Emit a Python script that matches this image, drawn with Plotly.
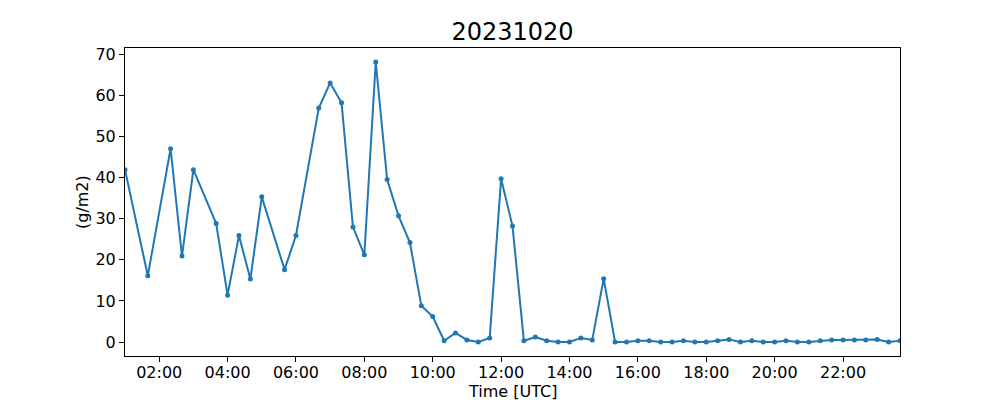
import plotly.graph_objects as go

day = "2023-10-20"
times = ["01:00", "01:40", "02:20", "02:40", "03:00", "03:40", "04:00", "04:20", "04:40", "05:00",
         "05:40", "06:00", "06:40", "07:00", "07:20", "07:40", "08:00", "08:20", "08:40", "09:00",
         "09:20", "09:40", "10:00", "10:20", "10:40", "11:00", "11:20", "11:40", "12:00", "12:20",
         "12:40", "13:00", "13:20", "13:40", "14:00", "14:20", "14:40", "15:00", "15:20", "15:40",
         "16:00", "16:20", "16:40", "17:00", "17:20", "17:40", "18:00", "18:20", "18:40", "19:00",
         "19:20", "19:40", "20:00", "20:20", "20:40", "21:00", "21:20", "21:40", "22:00", "22:20",
         "22:40", "23:00", "23:20", "23:40"]
values = [41.9, 16.1, 47.0, 20.9, 41.9, 28.8, 11.4, 25.9, 15.3, 35.3,
          17.6, 25.9, 56.9, 63.0, 58.2, 28.0, 21.2, 68.1, 39.5, 30.7,
          24.2, 8.8, 6.2, 0.3, 2.2, 0.5, 0.0, 1.0, 39.7, 28.2,
          0.3, 1.2, 0.3, 0.0, 0.0, 1.0, 0.5, 15.4, 0.0, 0.0,
          0.3, 0.3, 0.0, 0.0, 0.3, 0.0, 0.0, 0.3, 0.6, 0.0,
          0.3, 0.0, 0.0, 0.3, 0.0, 0.0, 0.3, 0.5, 0.5, 0.5,
          0.5, 0.6, 0.0, 0.3]
tick_hours = ["02:00", "04:00", "06:00", "08:00", "10:00", "12:00", "14:00", "16:00",
              "18:00", "20:00", "22:00"]
y_ticks = [0, 10, 20, 30, 40, 50, 60, 70]

x = [f"{day} {t}" for t in times]

fig = go.Figure()
fig.add_trace(go.Scatter(
    x=x, y=values, mode="lines+markers",
    line=dict(color="#1f77b4", width=2),
    marker=dict(color="#1f77b4", size=5),
    showlegend=False,
))

font = "DejaVu Sans"
# page body has an 8px margin; compensate in the figure margins
L, R, T, B = 117, 108, 40, 52
W, H = 1000, 400
plot_h = H - T - B
fig.update_layout(
    width=W, height=H,
    margin=dict(l=L, r=R, t=T, b=B),
    paper_bgcolor="white", plot_bgcolor="white",
    font=dict(family=font, size=16, color="black"),
    title=dict(text="20231020", x=(L + (W - L - R) / 2) / W, xanchor="center", xref="container",
               y=1 - 24 / H, yanchor="middle", yref="container",
               font=dict(size=24, family=font, color="black"), automargin=False),
    annotations=[
        dict(text="Time [UTC]", xref="paper", yref="paper", x=0.5,
             y=-(383.5 - (T + plot_h)) / plot_h, xanchor="center", yanchor="middle",
             showarrow=False, font=dict(size=16, family=font, color="black")),
        dict(text="(g/m2)", xref="paper", yref="paper", x=-(L - 74) / (W - L - R),
             y=0.5, xanchor="center", yanchor="middle", textangle=-90,
             showarrow=False, font=dict(size=16, family=font, color="black")),
    ],
)
fig.update_xaxes(
    type="date", automargin=False,
    range=[f"{day} {times[0]}", f"{day} {times[-1]}"],
    tickvals=[f"{day} {t}" for t in tick_hours],
    ticktext=tick_hours,
    ticks="outside", ticklen=5, tickwidth=1, tickcolor="black",
    ticklabelstandoff=-3,
    showline=True, linecolor="black", linewidth=1, mirror=True,
    showgrid=False, zeroline=False,
    tickfont=dict(size=16),
)
fig.update_yaxes(
    range=[-3.4, 71.5], automargin=False,
    tickvals=y_ticks,
    ticks="outside", ticklen=5, tickwidth=1, tickcolor="black",
    showline=True, linecolor="black", linewidth=1, mirror=True,
    showgrid=False, zeroline=False,
    tickfont=dict(size=16),
)
fig.write_html("out.html")
